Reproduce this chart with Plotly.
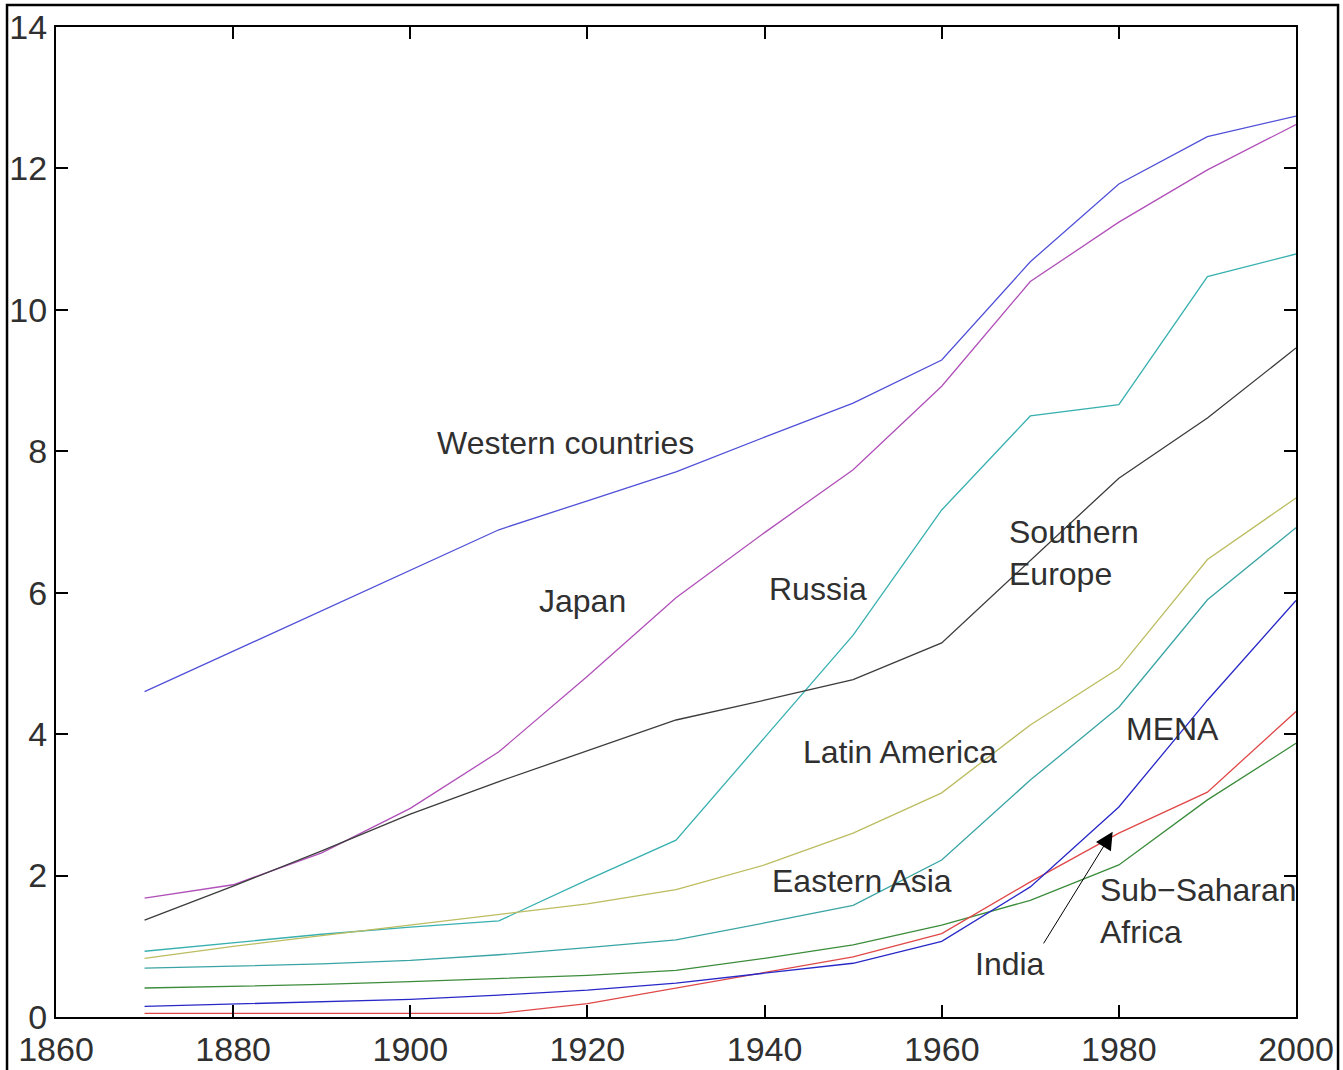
"""Average years of schooling by region, 1870-2000 (MATLAB-style line chart)."""
import plotly.graph_objects as go

YEARS = [1870, 1880, 1890, 1900, 1910, 1920, 1930, 1940, 1950, 1960, 1970, 1980, 1990, 2000]

WESTERN = [4.60, 5.17, 5.75, 6.32, 6.89, 7.30, 7.71, 8.20, 8.68, 9.29, 10.68, 11.78, 12.45, 12.74]
JAPAN = [1.68, 1.87, 2.32, 2.95, 3.75, 4.82, 5.93, 6.85, 7.74, 8.92, 10.40, 11.24, 11.98, 12.62]
RUSSIA = [0.93, 1.05, 1.17, 1.27, 1.36, 1.94, 2.50, 3.95, 5.40, 7.17, 8.50, 8.66, 10.47, 10.79]
SOUTH_EUROPE = [1.37, 1.85, 2.35, 2.87, 3.33, 3.77, 4.20, 4.48, 4.77, 5.29, 6.45, 7.62, 8.47, 9.46]
LATIN_AMERICA = [0.83, 1.00, 1.15, 1.30, 1.44, 1.60, 1.80, 2.15, 2.60, 3.17, 4.13, 4.93, 6.47, 7.34]
EAST_ASIA = [0.69, 0.72, 0.75, 0.80, 0.88, 0.98, 1.09, 1.33, 1.58, 2.22, 3.35, 4.38, 5.90, 6.92]
SUB_SAHARAN = [0.41, 0.43, 0.46, 0.50, 0.54, 0.59, 0.66, 0.83, 1.02, 1.30, 1.65, 2.15, 3.07, 3.87]
INDIA = [0.05, 0.05, 0.05, 0.05, 0.05, 0.19, 0.41, 0.62, 0.85, 1.18, 1.91, 2.60, 3.18, 4.32]
MENA = [0.15, 0.18, 0.22, 0.25, 0.31, 0.38, 0.48, 0.62, 0.76, 1.07, 1.84, 2.97, 4.48, 5.89]

SERIES = [
    ("Western countries", WESTERN, "#5050d8"),
    ("Japan", JAPAN, "#b050b8"),
    ("Russia", RUSSIA, "#38b0b0"),
    ("Southern Europe", SOUTH_EUROPE, "#3c3c3c"),
    ("Latin America", LATIN_AMERICA, "#bcbc60"),
    ("Eastern Asia", EAST_ASIA, "#3aa4a4"),
    ("Sub-Saharan Africa", SUB_SAHARAN, "#3c8c3c"),
    ("India", INDIA, "#e04848"),
    ("MENA", MENA, "#2828c8"),
]

# label text, x (year), y (years of schooling), anchor
LABELS = [
    ("Western countries", 1917.5, 8.12, "center"),
    ("Japan", 1919.4, 5.88, "center"),
    ("Russia", 1946.0, 6.05, "center"),
    ("Southern<br>Europe", 1967.4, 6.56, "left"),
    ("Latin America", 1955.3, 3.75, "center"),
    ("MENA", 1986.0, 4.07, "center"),
    ("Eastern Asia", 1951.0, 1.92, "center"),
    ("Sub\u2212Saharan<br>Africa", 1977.6, 1.50, "left"),
    ("India", 1967.7, 0.75, "center"),
]

X_TICKS = [1860, 1880, 1900, 1920, 1940, 1960, 1980, 2000]
Y_TICKS = [0, 2, 4, 6, 8, 10, 12, 14]

TEXT = "#303030"
LABEL_FONT = dict(family="Liberation Sans, Arial, sans-serif", size=32, color=TEXT)
TICK_FONT = dict(family="Liberation Sans, Arial, sans-serif", size=34, color=TEXT)

fig = go.Figure()
for name, vals, color in SERIES:
    fig.add_scatter(x=YEARS, y=vals, name=name, mode="lines",
                    line=dict(color=color, width=1.3))

for text, x, y, anchor in LABELS:
    fig.add_annotation(x=x, y=y, text=text, showarrow=False, xanchor=anchor,
                       align="left", font=LABEL_FONT)

# arrow pointing India's label to its line
fig.add_annotation(x=1979.3, y=2.62, ax=1971.4, ay=1.02, axref="x", ayref="y",
                   text="", showarrow=True, arrowhead=2, arrowsize=3.5,
                   arrowwidth=1, arrowcolor="#000000")

axis = dict(showline=True, linecolor="#000000", linewidth=2, mirror="ticks",
            ticks="inside", ticklen=12, tickwidth=1.5, tickcolor="#000000",
            showgrid=False, zeroline=False, tickfont=TICK_FONT, automargin=False)

fig.update_xaxes(range=[1860, 2000], tickvals=X_TICKS, ticklabelstandoff=1, **axis)
fig.update_yaxes(range=[0, 14], tickvals=Y_TICKS, ticklabelstandoff=0, **axis)

# outer picture frame
fig.add_shape(type="rect", xref="paper", yref="paper",
              x0=-0.0395, x1=1.0339, y0=-0.06, y1=1.0222,
              line=dict(color="#000000", width=2.5))

fig.update_layout(
    width=1343, height=1070,
    margin=dict(l=56, r=47, t=27, b=53),
    paper_bgcolor="#ffffff", plot_bgcolor="#ffffff",
    showlegend=False,
)

fig.write_html("out.html", config={"displayModeBar": False},
               post_script="document.body.style.margin = '0';")
